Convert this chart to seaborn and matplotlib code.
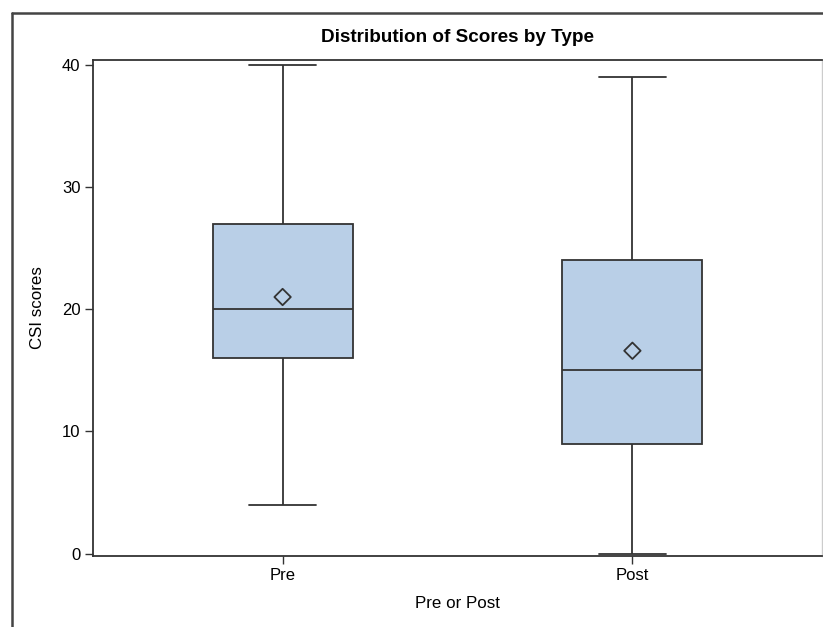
import matplotlib
matplotlib.use("Agg")
import matplotlib.pyplot as plt
from matplotlib.lines import Line2D
import seaborn as sns
import pandas as pd

# Five-number summaries (min, Q1, median, Q3, max)
categories = ["Pre", "Post"]
pre_summary = [4, 16, 20, 27, 40]
post_summary = [0, 9, 15, 24, 39]
means = [21.0, 16.6]
y_ticks = [0, 10, 20, 30, 40]

df = pd.DataFrame({
    "type": ["Pre"] * len(pre_summary) + ["Post"] * len(post_summary),
    "score": pre_summary + post_summary,
})
df_mean = pd.DataFrame({"type": categories, "mean": means})

sns.set_theme(style="white")
plt.rcParams["font.family"] = ["Liberation Sans", "DejaVu Sans"]
plt.rcParams["text.color"] = "black"
plt.rcParams["axes.labelcolor"] = "black"

fig = plt.figure(figsize=(8.23, 6.27), dpi=100)
ax = fig.add_axes([93 / 823, 71 / 627, (822 - 93) / 823, (556 - 60) / 627])

line_col = "#333333"
sns.boxplot(data=df, x="type", y="score", order=categories, ax=ax,
            whis=(0, 100), width=0.40, color="#B9CFE7", saturation=1,
            linecolor=line_col, linewidth=1.3, showfliers=False,
            boxprops=dict(facecolor="#B9CFE7", edgecolor=line_col),
            capwidths=0.19)
sns.scatterplot(data=df_mean, x="type", y="mean", ax=ax, marker="D", s=70,
                facecolor="none", edgecolor=line_col, linewidth=1.3, zorder=5)

ax.set_xlim(-0.542, 1.542)
ax.set_ylim(-0.2, 40.4)
ax.set_yticks(y_ticks)
ax.set_yticklabels([str(t) for t in y_ticks])
ax.tick_params(axis="both", direction="out", length=6, width=1, color=line_col,
               labelsize=12, labelcolor="black", bottom=True, left=True, pad=3)
ax.set_xlabel("Pre or Post", fontsize=12.2, labelpad=9, color="black")
ax.set_ylabel("CSI scores", fontsize=12.2, labelpad=12, color="black")
ax.set_title("Distribution of Scores by Type", fontsize=13.6, fontweight="bold",
             pad=13, color="black")

for side in ["left", "bottom", "top"]:
    ax.spines[side].set_color(line_col)
    ax.spines[side].set_linewidth(1.3)
ax.spines["right"].set_color("#CCCCCC")
ax.spines["right"].set_linewidth(1.0)

# Outer border of the original output
fig.add_artist(Line2D([12 / 823, 1.0], [1 - 13 / 627, 1 - 13 / 627],
                      transform=fig.transFigure, color="#444444", linewidth=1.8))
fig.add_artist(Line2D([12 / 823, 12 / 823], [0, 1 - 13 / 627],
                      transform=fig.transFigure, color="#444444", linewidth=1.8))

fig.savefig("out.png", dpi=100)
